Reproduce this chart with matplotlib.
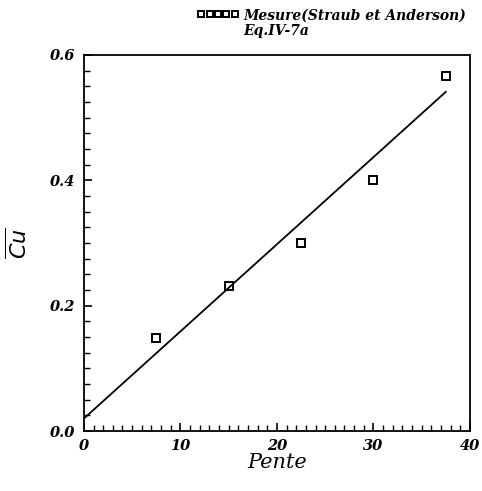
import matplotlib
matplotlib.use("Agg")
import matplotlib.pyplot as plt
from matplotlib.ticker import MultipleLocator, FormatStrFormatter
import numpy as np

# mesures (Straub et Anderson)
pente = [7.5, 15.0, 22.5, 30.0, 37.5]
cu_mesure = [0.148, 0.232, 0.300, 0.401, 0.567]

# droite Eq.IV-7a : Cu = a + b * pente
eq_a = 0.020
eq_b = 0.0139
pente_eq = [0.0, 37.5]

fig = plt.figure(figsize=(4.82, 4.91), dpi=100)
ax = fig.add_axes([0.174, 0.122, 0.801, 0.766])

x_eq = np.array(pente_eq)
ax.plot(pente, cu_mesure, linestyle="none", marker="s", markersize=6,
        markerfacecolor="white", markeredgecolor="black", markeredgewidth=1.4,
        label="Mesure(Straub et Anderson)")
ax.plot(x_eq, eq_a + eq_b * x_eq, color="black", linewidth=1.3, label="Eq.IV-7a")

ax.set_xlim(0, 40)
ax.set_ylim(0, 0.6)
ax.xaxis.set_major_locator(MultipleLocator(10))
ax.xaxis.set_minor_locator(MultipleLocator(1))
ax.yaxis.set_major_locator(MultipleLocator(0.2))
ax.yaxis.set_minor_locator(MultipleLocator(0.025))
ax.yaxis.set_major_formatter(FormatStrFormatter("%.1f"))
ax.tick_params(which="both", direction="in", top=False, right=False)
ax.tick_params(which="major", length=6, width=1.2, pad=6)
ax.tick_params(which="minor", length=4, width=1.0)
for lab in ax.get_xticklabels() + ax.get_yticklabels():
    lab.set_fontfamily("DejaVu Serif")
    lab.set_fontstyle("italic")
    lab.set_fontweight("bold")
    lab.set_fontsize(10.5)
for sp in ax.spines.values():
    sp.set_linewidth(1.3)

ax.set_xlabel("Pente", fontsize=15, family="DejaVu Serif", style="italic", labelpad=0)
ax.set_ylabel(r"$\overline{Cu}$", fontsize=16, labelpad=14)

leg = ax.legend(loc="lower right", bbox_to_anchor=(1.0, 1.035), frameon=False,
                numpoints=5, markerscale=0.75, handlelength=3.0, handletextpad=0.3,
                labelspacing=0.1, borderaxespad=0.2, borderpad=0.1,
                prop=dict(family="DejaVu Serif", style="italic", weight="bold", size=10))
leg.legend_handles[1].set_visible(False)

fig.savefig("out.png", dpi=100)
